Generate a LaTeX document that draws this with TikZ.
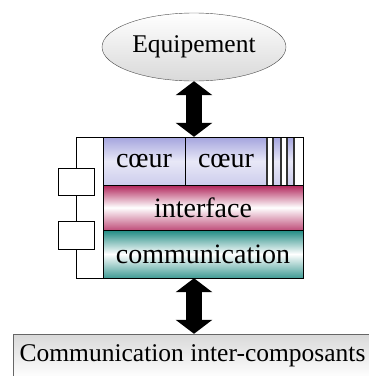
\documentclass[tikz,border=0pt]{standalone}
\usepackage{fontspec}
\setmainfont{Liberation Serif}
\usepackage{tikz}
\usetikzlibrary{shapes,arrows.meta,positioning,calc}
\definecolor{lilas}{HTML}{A4A4DE}
\definecolor{cramoisi}{HTML}{B0245A}
\definecolor{sarcelle}{HTML}{1F8A82}

\begin{document}
\begin{tikzpicture}[x=1pt,y=-1pt,
    couche/.style={draw=black, inner sep=0pt, font=\fontsize{28}{30}\selectfont},
    port/.style={draw=black, fill=white, minimum width=36pt, minimum height=27pt, inner sep=0pt},
    flecheepaisse/.style={line width=16pt, {Triangle[width=36pt,length=14pt]}-{Triangle[width=36pt,length=14pt]}}]
    \useasboundingbox (0,0) rectangle (368,376);
    % Equipement (ellipse)
    \node[ellipse, draw=black!70, top color=white, bottom color=black!15,
          minimum width=184pt, minimum height=68pt, inner sep=0pt,
          font=\fontsize{25.5}{28}\selectfont] (equip) at (194,47) {Equipement};
    % Bloc du composant
    \node[draw=black, fill=white, minimum width=227pt, minimum height=141pt, inner sep=0pt] (bloc) at (189.5,207.5) {};
    \node[couche, top color=lilas, bottom color=lilas!55, middle color=lilas!25,
          minimum width=82pt, minimum height=48pt] (coeurA) at (144,161) {cœur};
    \node[couche, top color=lilas, bottom color=lilas!55, middle color=lilas!25,
          minimum width=82pt, minimum height=48pt] (coeurB) at (226,161) {cœur};
    % Bandes a droite des coeurs
    \foreach \xa/\xb in {273/281,287/294} {
        \fill[top color=lilas, bottom color=lilas!55, middle color=lilas!25] (\xa,137) rectangle (\xb,185);
    }
    \foreach \x in {267,273,281,287,294} {
        \draw[black!80, line width=1.6pt] (\x,137) -- (\x,185);
    }
    \node[couche, top color=cramoisi, bottom color=cramoisi!80, middle color=white,
          minimum width=200pt, minimum height=45pt] (interf) at (203,207.5) {interface};
    \node[couche, top color=sarcelle, bottom color=sarcelle!85, middle color=white,
          minimum width=200pt, minimum height=48pt] (comm) at (203,254) {communication};
    \draw[black] (bloc.north east) rectangle (bloc.south west);
    % Ports a gauche
    \node[port] (portA) at (76,181.5) {};
    \node[port, minimum height=28pt] (portB) at (76,235) {};
    % Communication inter-composants
    \node[draw=black!60, top color=black!15, bottom color=white, minimum width=359pt, minimum height=44pt,
          inner sep=0pt, font=\fontsize{25.5}{28}\selectfont] (bas) at (192.5,356) {Communication inter-composants};
    % Fleches doubles
    \draw[flecheepaisse] (equip.south) -- (equip.south |- bloc.north);
    \draw[flecheepaisse] (equip.south |- bloc.south) -- (equip.south |- bas.north);
\end{tikzpicture}
\end{document}
